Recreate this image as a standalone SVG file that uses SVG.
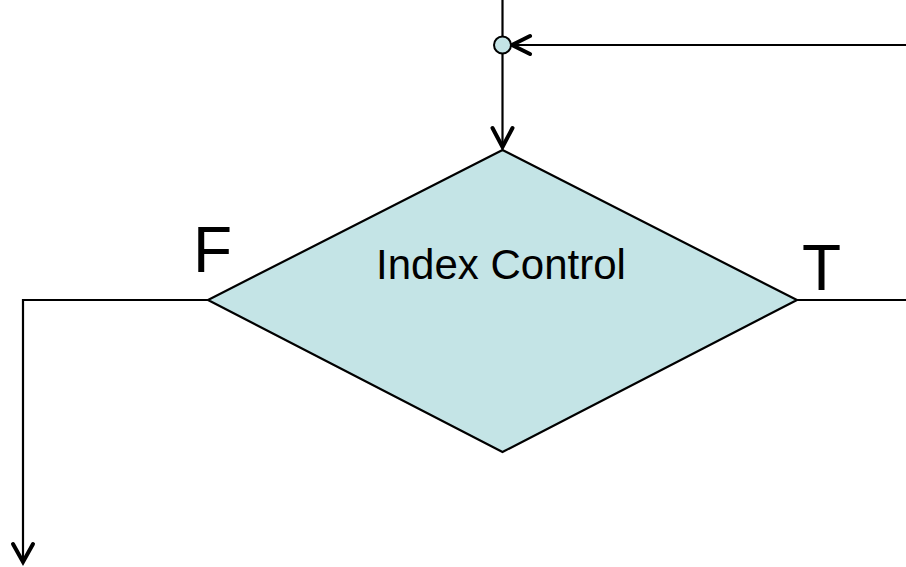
<svg xmlns="http://www.w3.org/2000/svg" width="906" height="567" viewBox="0 0 906 567">
<style>
.ln{fill:none;stroke:#000;stroke-width:2.2}
.ah{fill:none;stroke:#000;stroke-width:4;stroke-linecap:round;stroke-linejoin:miter}
.lbl{font-family:"Liberation Sans",Arial,sans-serif;fill:#000}
</style>
<rect width="906" height="567" fill="#fff"/>
<g id="connectors">
<path class="ln" d="M502.5 0 V146"/>
<path class="ah" d="M492.5 128 L502.5 147 L512.5 128"/>
<path class="ln" d="M906 45 H512"/>
<path class="ah" d="M530 36 L512 45 L530 54"/>
<path class="ln" d="M208 300 H23 V561"/>
<path class="ah" d="M13 544 L23 562 L33 544"/>
<path class="ln" d="M797 300 H906"/>
</g>
<g id="junction">
<circle cx="502.5" cy="45" r="8.5" fill="#C4E4E6" stroke="#000" stroke-width="2"/>
</g>
<g id="decision">
<polygon points="502.5,150 797,300 502.5,452 208,300" fill="#C4E4E6" stroke="#000" stroke-width="2.2"/>
<text class="lbl" x="501" y="279" font-size="42" text-anchor="middle">Index Control</text>
</g>
<text class="lbl" x="193" y="272" font-size="64">F</text>
<text class="lbl" x="802" y="290" font-size="64">T</text>
</svg>
